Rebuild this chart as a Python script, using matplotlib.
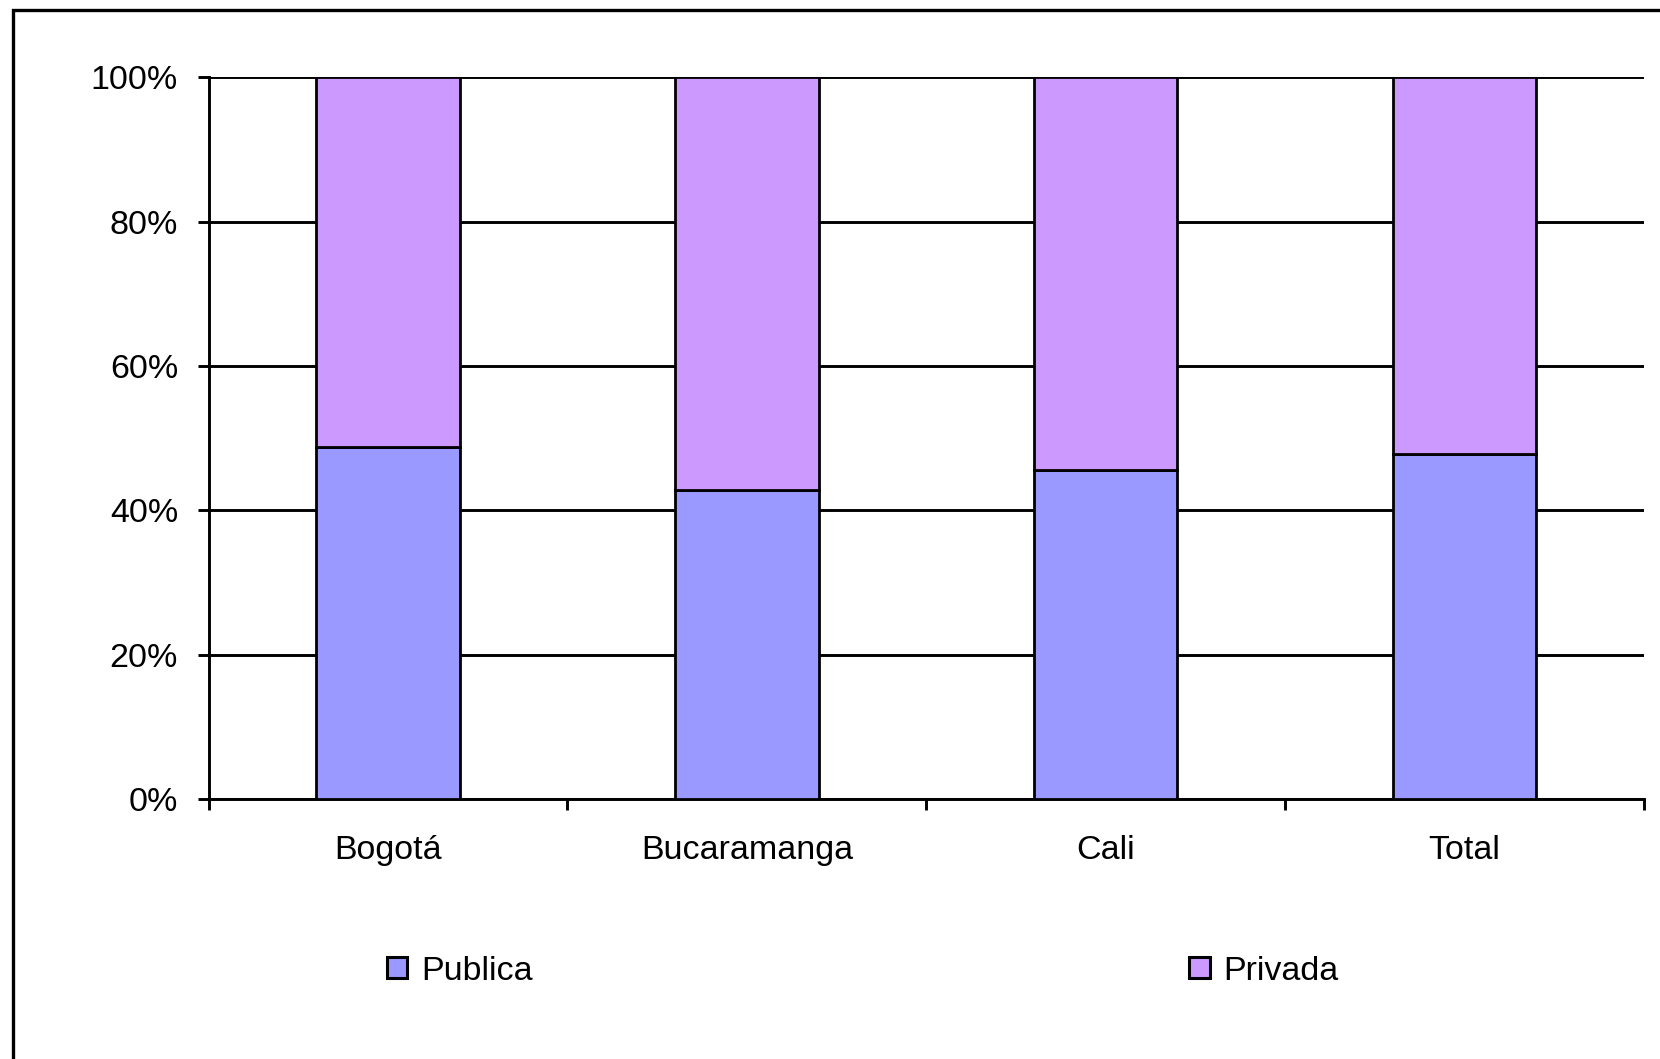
import matplotlib.pyplot as plt
from matplotlib.patches import Rectangle, Patch
from matplotlib.ticker import FixedLocator, PercentFormatter

plt.rcParams['font.family'] = ['Liberation Sans', 'DejaVu Sans']

cities = ["Bogotá", "Bucaramanga", "Cali", "Total"]
publica = [48.8, 42.8, 45.6, 47.8]
privada = [51.2, 57.2, 54.4, 52.2]
series_names = ["Publica", "Privada"]
colors = ["#9999FF", "#CC99FF"]

W, H = 1660, 1059
fig = plt.figure(figsize=(W / 100, H / 100), dpi=100)
ax = fig.add_axes([208.6 / W, 1 - 799 / H, (1644 - 208.6) / W, (799 - 77.3) / H])

# outer frame of the chart area (right and bottom cut off)
fig.patches.append(Rectangle((12.5 / W, -0.2), 2, 1.2 - 9.5 / H, transform=fig.transFigure,
                             fill=False, edgecolor="black", linewidth=2.4, zorder=0))

pos = range(len(cities))
ax.bar(pos, publica, width=0.4, color=colors[0], edgecolor="black", linewidth=2.0, zorder=3)
ax.bar(pos, privada, width=0.4, bottom=publica, color=colors[1], edgecolor="black",
       linewidth=2.0, zorder=3)

ax.set_xlim(-0.5, len(cities) - 0.5)
ax.set_ylim(0, 100)
ax.set_yticks([0, 20, 40, 60, 80, 100])
ax.yaxis.set_major_formatter(PercentFormatter(decimals=0))
ax.yaxis.grid(True, color="black", linewidth=2.1, zorder=0)
ax.set_axisbelow(True)

ax.xaxis.set_major_locator(FixedLocator([i - 0.5 for i in range(len(cities) + 1)]))
ax.xaxis.set_major_formatter(plt.NullFormatter())
ax.xaxis.set_minor_locator(FixedLocator(list(pos)))
ax.set_xticklabels(cities, minor=True)
ax.tick_params(axis="x", which="minor", length=0, pad=26, labelsize=24.5)
ax.tick_params(axis="x", which="major", length=8, width=2.1, direction="out")
ax.tick_params(axis="y", length=8, width=2.1, pad=14, labelsize=24.5)

for s in ["top", "right"]:
    ax.spines[s].set_visible(False)
for s in ["left", "bottom"]:
    ax.spines[s].set_linewidth(2.1)

handles = [Patch(facecolor=c, edgecolor="black", linewidth=2.2) for c in colors]
fig.legend(handles, series_names, loc="center left", bbox_to_anchor=(387 / W, 1 - 971 / H),
           ncol=2, frameon=False, fontsize=24.5, handlelength=0.6, handleheight=0.6,
           handletextpad=0.4, columnspacing=19.3, borderpad=0, borderaxespad=0)

fig.savefig("out.png", dpi=100)
